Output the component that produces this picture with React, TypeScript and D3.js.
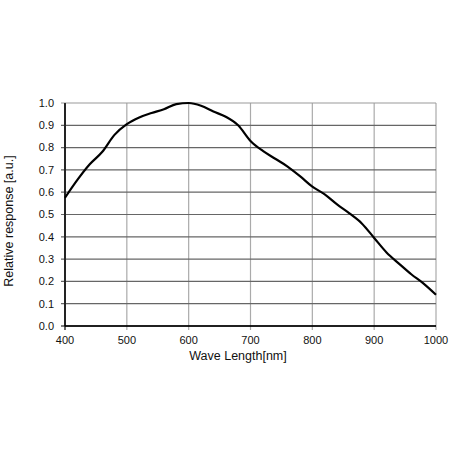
import React from 'react';
import * as d3 from 'd3';

const wavelengths = [400, 420, 440, 460, 480, 500, 520, 540, 560, 580, 600, 620, 640, 660, 680, 700, 720, 740, 760, 780, 800, 820, 840, 860, 880, 900, 920, 940, 960, 980, 1000];
const response = [0.575, 0.655, 0.725, 0.78, 0.857, 0.905, 0.935, 0.955, 0.972, 0.995, 1.0, 0.988, 0.962, 0.938, 0.9, 0.83, 0.785, 0.75, 0.715, 0.672, 0.625, 0.59, 0.545, 0.505, 0.46, 0.395, 0.33, 0.28, 0.232, 0.19, 0.14];
const xTicks = [400, 500, 600, 700, 800, 900, 1000];
const yTicks = [0, 0.1, 0.2, 0.3, 0.4, 0.5, 0.6, 0.7, 0.8, 0.9, 1.0];

const W = 450;
const H = 450;
const left = 65;
const right = 436;
const top = 103;
const bottom = 326;
const font = '"Liberation Sans", Arial, sans-serif';

const App: React.FC = () => {
    const x = d3.scaleLinear().domain([400, 1000]).range([left, right]);
    const y = d3.scaleLinear().domain([0, 1]).range([bottom, top]);

    const line = d3.line<number>()
        .x((_, i) => x(wavelengths[i]))
        .y(d => y(d))
        .curve(d3.curveMonotoneX);

    return (
        <svg width={W} height={H} style={{position: 'absolute', left: 0, top: 0, background: '#fff'}}>
            {/* vertical grid */}
            {xTicks.map(t => (
                <line key={'vx' + t} x1={x(t)} x2={x(t)} y1={top} y2={bottom + 4}
                      stroke={t === 400 ? '#000' : '#aaa'} strokeWidth={1.2}/>
            ))}
            {/* horizontal grid */}
            {yTicks.map(t => (
                <line key={'hy' + t} x1={left - 4} x2={right} y1={y(t)} y2={y(t)}
                      stroke={t === 0 ? '#000' : (t === 1 ? '#999' : '#666')} strokeWidth={1.2}/>
            ))}
            <line x1={left} x2={left} y1={top} y2={bottom} stroke="#000" strokeWidth={1.3}/>
            <line x1={left} x2={right} y1={bottom} y2={bottom} stroke="#000" strokeWidth={1.3}/>

            <path d={line(response) || ''} fill="none" stroke="#000" strokeWidth={2.2} strokeLinejoin="round"/>

            {yTicks.map(t => (
                <text key={'yl' + t} x={left - 11} y={y(t)} dy="0.35em" textAnchor="end"
                      fontFamily={font} fontSize={11} fill="#111">{t.toFixed(1)}</text>
            ))}
            {xTicks.map(t => (
                <text key={'xl' + t} x={x(t)} y={bottom + 18} textAnchor="middle"
                      fontFamily={font} fontSize={11} fill="#111">{t}</text>
            ))}
            <text x={238} y={360} textAnchor="middle" fontFamily={font} fontSize={12.5}
                  fill="#111">Wave Length[nm]</text>
            <text transform={`translate(13, 221) rotate(-90)`} textAnchor="middle"
                  fontFamily={font} fontSize={12.5} fill="#111">Relative response [a.u.]</text>
        </svg>
    );
};

export default App;
